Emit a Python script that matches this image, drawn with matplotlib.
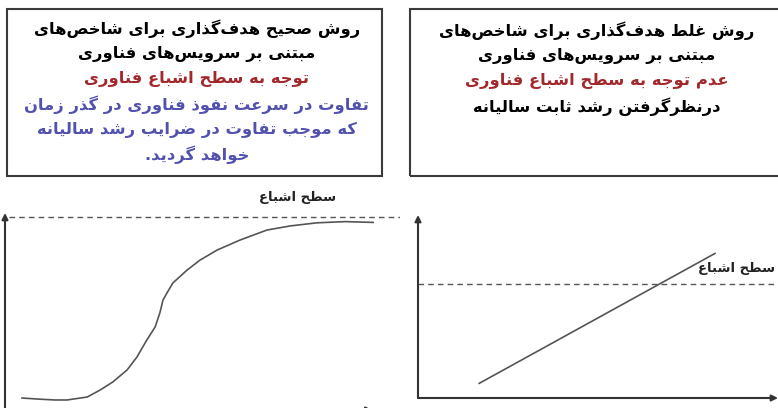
import matplotlib
matplotlib.use("Agg")
import matplotlib.pyplot as plt
from matplotlib.patches import Rectangle

plt.rcParams['font.family'] = ['DejaVu Sans']

# text of the two boxes
left_lines = ["روش صحیح هدف‌گذاری برای شاخص‌های",
              "مبتنی بر سرویس‌های فناوری",
              "توجه به سطح اشباع فناوری",
              "تفاوت در سرعت نفوذ فناوری در گذر زمان",
              "که موجب تفاوت در ضرایب رشد سالیانه",
              "خواهد گردید."]
left_colors = ["black", "black", "#a3282c", "#5252ae", "#5252ae", "#5252ae"]

right_lines = ["روش غلط هدف‌گذاری برای شاخص‌های",
               "مبتنی بر سرویس‌های فناوری",
               "عدم توجه به سطح اشباع فناوری",
               "درنظرگرفتن رشد ثابت سالیانه"]
right_colors = ["black", "black", "#a3282c", "black"]

sat_label = "سطح اشباع"

# S-curve (time, penetration), saturation level
s_time = [4.3, 8.9, 12.7, 15.7, 20.8, 24.1, 27.3, 30.9, 33.4, 35.9, 38.0, 39.2, 40.0,
          41.0, 42.5, 46.1, 49.4, 53.7, 59.5, 66.3, 72.2, 79.0, 86.1, 93.2]
s_value = [5.6, 5.0, 4.6, 4.6, 6.1, 9.7, 13.8, 19.9, 26.5, 35.2, 41.8, 49.0, 55.6,
           59.2, 64.3, 70.9, 76.0, 81.1, 86.2, 91.3, 93.4, 95.0, 95.6, 95.2]
s_saturation = 98

# linear growth line, saturation level
l_time = [17, 82.5]
l_value = [8, 79]
l_saturation = 62.3

# --- simple persian shaping (matplotlib has no text layout for arabic script)
forms = {
    'ا': ('\uFE8D', '\uFE8E', None, None), 'آ': ('\uFE81', '\uFE82', None, None),
    'ب': ('\uFE8F', '\uFE90', '\uFE91', '\uFE92'), 'پ': ('\uFB56', '\uFB57', '\uFB58', '\uFB59'),
    'ت': ('\uFE95', '\uFE96', '\uFE97', '\uFE98'), 'ث': ('\uFE99', '\uFE9A', '\uFE9B', '\uFE9C'),
    'ج': ('\uFE9D', '\uFE9E', '\uFE9F', '\uFEA0'), 'چ': ('\uFB7A', '\uFB7B', '\uFB7C', '\uFB7D'),
    'ح': ('\uFEA1', '\uFEA2', '\uFEA3', '\uFEA4'), 'خ': ('\uFEA5', '\uFEA6', '\uFEA7', '\uFEA8'),
    'د': ('\uFEA9', '\uFEAA', None, None), 'ذ': ('\uFEAB', '\uFEAC', None, None),
    'ر': ('\uFEAD', '\uFEAE', None, None), 'ز': ('\uFEAF', '\uFEB0', None, None),
    'ژ': ('\uFB8A', '\uFB8B', None, None),
    'س': ('\uFEB1', '\uFEB2', '\uFEB3', '\uFEB4'), 'ش': ('\uFEB5', '\uFEB6', '\uFEB7', '\uFEB8'),
    'ص': ('\uFEB9', '\uFEBA', '\uFEBB', '\uFEBC'), 'ض': ('\uFEBD', '\uFEBE', '\uFEBF', '\uFEC0'),
    'ط': ('\uFEC1', '\uFEC2', '\uFEC3', '\uFEC4'), 'ظ': ('\uFEC5', '\uFEC6', '\uFEC7', '\uFEC8'),
    'ع': ('\uFEC9', '\uFECA', '\uFECB', '\uFECC'), 'غ': ('\uFECD', '\uFECE', '\uFECF', '\uFED0'),
    'ف': ('\uFED1', '\uFED2', '\uFED3', '\uFED4'), 'ق': ('\uFED5', '\uFED6', '\uFED7', '\uFED8'),
    'ک': ('\uFB8E', '\uFB8F', '\uFB90', '\uFB91'), 'گ': ('\uFB92', '\uFB93', '\uFB94', '\uFB95'),
    'ل': ('\uFEDD', '\uFEDE', '\uFEDF', '\uFEE0'), 'م': ('\uFEE1', '\uFEE2', '\uFEE3', '\uFEE4'),
    'ن': ('\uFEE5', '\uFEE6', '\uFEE7', '\uFEE8'), 'و': ('\uFEED', '\uFEEE', None, None),
    'ه': ('\uFEE9', '\uFEEA', '\uFEEB', '\uFEEC'), 'ی': ('\uFBFC', '\uFBFD', '\uFBFE', '\uFBFF'),
}


def shape(s):
    out = []
    for i, c in enumerate(s):
        if c not in forms:
            if c != '\u200c':
                out.append(c)
            continue
        prev = s[i - 1] if i > 0 else ''
        nxt = s[i + 1] if i + 1 < len(s) else ''
        jp = prev in forms and forms[prev][2] is not None
        jn = forms[c][2] is not None and nxt in forms
        iso, fin, ini, med = forms[c]
        if jp and jn:
            out.append(med)
        elif jp:
            out.append(fin)
        elif jn:
            out.append(ini)
        else:
            out.append(iso)
    return ''.join(out[::-1])


fig = plt.figure(figsize=(7.78, 4.08), dpi=100)
W, H = 778, 408


def px_box(x0, y0, x1, y1):
    return [x0 / W, 1 - y1 / H, (x1 - x0) / W, (y1 - y0) / H]


# text boxes
for (x0, x1), xc, lines, colors, y_first in [((7, 382), 197, left_lines, left_colors, 29),
                                             ((410, 781), 597, right_lines, right_colors, 31)]:
    fig.add_artist(Rectangle((x0 / W, 1 - 176 / H), (x1 - x0) / W, 167 / H,
                             transform=fig.transFigure, fill=False,
                             edgecolor="#3a3a3a", linewidth=1.5))
    for k, (t, col) in enumerate(zip(lines, colors)):
        fig.text(xc / W, 1 - (y_first + k * 25.2) / H, shape(t), color=col,
                 ha="center", va="center", fontsize=11.8, fontweight="bold")

# left diagram: S-curve
ax1 = fig.add_axes(px_box(5, 213, 400, 409))
ax1.set_xlim(0, 100)
ax1.set_ylim(0, 100)
ax1.axis("off")
ax1.plot(s_time, s_value, color="#555555", linewidth=1.2)
ax1.axhline(s_saturation, xmin=0.01, color="#555555", linewidth=1, linestyle=(0, (4, 3)))
ax1.annotate("", xy=(0, 1.0), xytext=(0, -0.02), xycoords="axes fraction",
             arrowprops=dict(arrowstyle="-|>", color="#333333", linewidth=1.5,
                             mutation_scale=9, shrinkA=0, shrinkB=0))
ax1.annotate("", xy=(0.93, -0.005), xytext=(0, -0.005), xycoords="axes fraction",
             arrowprops=dict(arrowstyle="-|>", color="#333333", linewidth=1.5,
                             mutation_scale=9, shrinkA=0, shrinkB=0))
ax1.text(74, 108, shape(sat_label), ha="center", va="center", fontsize=9.5,
         color="#222222", fontweight="bold", clip_on=False)

# right diagram: linear growth
ax2 = fig.add_axes(px_box(418, 215, 778, 398))
ax2.set_xlim(0, 100)
ax2.set_ylim(0, 100)
ax2.axis("off")
ax2.plot(l_time, l_value, color="#555555", linewidth=1.2)
ax2.axhline(l_saturation, color="#555555", linewidth=1, linestyle=(0, (4, 3)))
ax2.annotate("", xy=(0, 1.0), xytext=(0, 0), xycoords="axes fraction",
             arrowprops=dict(arrowstyle="-|>", color="#333333", linewidth=1.5,
                             mutation_scale=9, shrinkA=0, shrinkB=0))
ax2.annotate("", xy=(1.0, 0), xytext=(0, 0), xycoords="axes fraction",
             arrowprops=dict(arrowstyle="-|>", color="#333333", linewidth=1.5,
                             mutation_scale=9, shrinkA=0, shrinkB=0))
ax2.text(99.3, 71, shape(sat_label), ha="right", va="center", fontsize=9.5,
         color="#222222", fontweight="bold", clip_on=False)

fig.savefig("out.png", dpi=100)
